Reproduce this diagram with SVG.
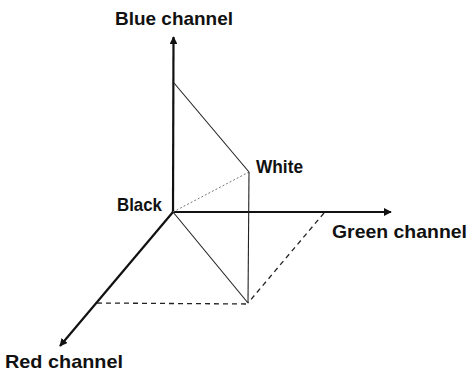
<svg xmlns="http://www.w3.org/2000/svg" width="469" height="372" viewBox="0 0 469 372">
<style>
.lbl{font-family:"Liberation Sans",Arial,sans-serif;font-weight:bold;font-size:19px;fill:#111}
.axis{stroke:#111;stroke-width:2.2;fill:none}
.thin{stroke:#222;stroke-width:1.1;fill:none}
.dash{stroke:#222;stroke-width:1.3;fill:none;stroke-dasharray:5,4}
.dot{stroke:#777;stroke-width:1;fill:none;stroke-dasharray:2,2}
</style>
<defs>
<marker id="ah" viewBox="0 0 10 10" refX="9" refY="5" markerWidth="3.6" markerHeight="3.6" orient="auto" markerUnits="strokeWidth">
<path d="M0,0 L10,5 L0,10 Z" fill="#111"/>
</marker>
</defs>
<g id="connectors">
<line class="axis" x1="173" y1="212" x2="173.5" y2="37" marker-end="url(#ah)"/>
<line class="axis" x1="173" y1="212" x2="391" y2="212" marker-end="url(#ah)"/>
<line class="axis" x1="173" y1="212" x2="60" y2="346" marker-end="url(#ah)"/>
<line class="thin" x1="174" y1="83" x2="249" y2="172"/>
<line class="dot" x1="173" y1="212" x2="249" y2="172"/>
<line class="thin" x1="249" y1="172" x2="248" y2="303"/>
<line class="thin" x1="173" y1="212" x2="248" y2="303"/>
<line class="dash" x1="324" y1="213" x2="248" y2="303"/>
<line class="dash" x1="97" y1="303" x2="248" y2="304"/>
</g>
<g id="blue"><text class="lbl" x="115" y="25" textLength="118" lengthAdjust="spacingAndGlyphs">Blue channel</text></g>
<g id="black"><text class="lbl" x="117" y="211" textLength="45" lengthAdjust="spacingAndGlyphs">Black</text></g>
<g id="white"><text class="lbl" x="256" y="173" textLength="47" lengthAdjust="spacingAndGlyphs">White</text></g>
<g id="green"><text class="lbl" x="332" y="238" textLength="135" lengthAdjust="spacingAndGlyphs">Green channel</text></g>
<g id="red"><text class="lbl" x="5" y="368" textLength="118" lengthAdjust="spacingAndGlyphs">Red channel</text></g>
</svg>
